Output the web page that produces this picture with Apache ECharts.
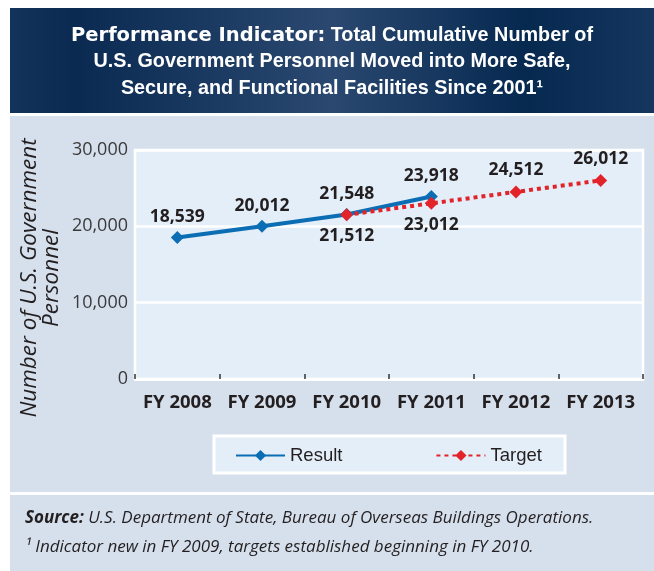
<!DOCTYPE html>
<html>
<head>
<meta charset="utf-8">
<title>Performance Indicator</title>
<script src="https://cdn.jsdelivr.net/npm/echarts@6/dist/echarts.min.js"></script>
<style>
  html, body { margin: 0; padding: 0; background: #fff; }
  #chart { width: 654px; height: 571px; }
</style>
</head>
<body>
<div id="chart"></div>
<script>
// data
var categories = ['FY 2008', 'FY 2009', 'FY 2010', 'FY 2011', 'FY 2012', 'FY 2013'];
var resultValues = [18539, 20012, 21548, 23918, null, null];
var targetValues = [null, null, 21512, 23012, 24512, 26012];
var yMin = 0, yMax = 30000, yStep = 10000;

var fmt = function (v) { return Number(v).toLocaleString('en-US'); };

// target labels sit under the line while it runs next to the results
var targetData = targetValues.map(function (v, i) {
  return { value: v, label: { position: resultValues[i] != null ? 'bottom' : 'top' } };
});

var myChart = echarts.init(document.getElementById('chart'));
var option = {
  backgroundColor: '#fff',
  animation: false,
  grid: {
    left: 135, right: 11, top: 150, bottom: 192,
    show: true,
    backgroundColor: '#e4eef8',
    borderColor: '#fff',
    borderWidth: 2.5
  },
  xAxis: {
    type: 'category',
    data: categories,
    boundaryGap: true,
    axisLine: { show: true, lineStyle: { color: '#fff', width: 2.5 } },
    axisTick: { show: true, inside: true, length: 5, interval: 0, lineStyle: { color: '#333', width: 1.5 } },
    axisLabel: {
      interval: 0,
      margin: 14,
      color: '#231f20',
      fontFamily: 'Open Sans',
      fontWeight: 'bold',
      fontSize: 18.5
    }
  },
  yAxis: {
    type: 'value',
    min: yMin, max: yMax, interval: yStep,
    axisLine: { show: false },
    axisTick: { show: false },
    splitLine: { lineStyle: { color: '#fff', width: 2.5 } },
    axisLabel: {
      margin: 7,
      color: '#3a3a3a',
      fontFamily: 'Open Sans',
      fontSize: 18,
      formatter: fmt
    }
  },
  legend: {
    data: ['Result', 'Target'],
    left: 235, top: 446,
    padding: 0,
    itemGap: 93,
    itemWidth: 49,
    itemHeight: 14,
    textStyle: { fontFamily: 'Liberation Sans', fontSize: 18.5, color: '#231f20' }
  },
  series: [
    {
      name: 'Result',
      type: 'line',
      data: resultValues,
      symbol: 'diamond',
      symbolSize: 13,
      color: '#0b6db3',
      lineStyle: { width: 4, color: '#0b6db3' },
      itemStyle: { color: '#0b6db3' },
      label: {
        show: true, position: 'top', distance: 5,
        color: '#231f20', fontFamily: 'Open Sans', fontWeight: 'bold', fontSize: 17.5,
        formatter: function (p) { return fmt(p.value); }
      },
      z: 3
    },
    {
      name: 'Target',
      type: 'line',
      data: targetData,
      symbol: 'diamond',
      symbolSize: 13,
      color: '#e2232a',
      lineStyle: { width: 4, color: '#e2232a', type: [4, 4] },
      itemStyle: { color: '#e2232a' },
      label: {
        show: true, distance: 6,
        color: '#231f20', fontFamily: 'Open Sans', fontWeight: 'bold', fontSize: 17.5,
        formatter: function (p) { return fmt(p.value); }
      },
      z: 4
    }
  ],
  graphic: [
    // header band
    {
      type: 'rect', z: -10,
      shape: { x: 10, y: 8, width: 644, height: 105 },
      style: {
        fill: {
          type: 'linear', x: 0, y: 0, x2: 1, y2: 0,
          colorStops: [
            { offset: 0, color: '#13335a' },
            { offset: 0.1, color: '#0a2a51' },
            { offset: 0.5, color: '#2a4870' },
            { offset: 0.8, color: '#062950' },
            { offset: 1, color: '#15365e' }
          ]
        }
      }
    },
    // chart panel
    { type: 'rect', z: -10, shape: { x: 10, y: 116, width: 644, height: 376 }, style: { fill: '#d6e0ed' } },
    // footer panel
    { type: 'rect', z: -10, shape: { x: 10, y: 495, width: 644, height: 76 }, style: { fill: '#d6e0ed' } },
    // legend box
    {
      type: 'rect', z: -5,
      shape: { x: 214, y: 436, width: 351, height: 37 },
      style: { fill: '#e4eef8', stroke: '#fff', lineWidth: 3 }
    },
    // title
    {
      type: 'text', z: 10, x: 332, y: 62,
      style: {
        text: '{b|Performance Indicator:} Total Cumulative Number of\nU.S. Government Personnel Moved into More Safe,\nSecure, and Functional Facilities Since 2001\u00b9',
        fill: '#fff',
        fontFamily: 'Liberation Sans',
        fontWeight: 'bold',
        fontSize: 19.8,
        lineHeight: 26.5,
        align: 'center',
        verticalAlign: 'middle',
        rich: {
          b: { fill: '#fff', fontFamily: 'DejaVu Sans', fontWeight: 'bold', fontSize: 19.5, lineHeight: 26.5 }
        }
      }
    },
    // y axis name
    {
      type: 'text', z: 10, x: 41, y: 278, rotation: Math.PI / 2,
      style: {
        text: 'Number of U.S. Government\nPersonnel',
        fill: '#231f20',
        fontFamily: 'Open Sans',
        fontStyle: 'italic',
        fontSize: 22.5,
        lineHeight: 22,
        align: 'center',
        verticalAlign: 'middle'
      }
    },
    // footer notes
    {
      type: 'text', z: 10, x: 25, y: 518,
      style: {
        text: '{b|Source:} U.S. Department of State, Bureau of Overseas Buildings Operations.',
        fill: '#231f20',
        fontFamily: 'Open Sans',
        fontStyle: 'italic',
        fontSize: 17,
        align: 'left',
        verticalAlign: 'middle',
        rich: {
          b: { fill: '#231f20', fontFamily: 'Open Sans', fontStyle: 'italic', fontWeight: 'bold', fontSize: 17 }
        }
      }
    },
    {
      type: 'text', z: 10, x: 25, y: 547,
      style: {
        text: '\u00b9 Indicator new in FY 2009, targets established beginning in FY 2010.',
        fill: '#231f20',
        fontFamily: 'Open Sans',
        fontStyle: 'italic',
        fontSize: 17,
        align: 'left',
        verticalAlign: 'middle'
      }
    }
  ]
};
myChart.setOption(option);
window.addEventListener('resize', function () {
  myChart.resize();
});
</script>
</body>
</html>
